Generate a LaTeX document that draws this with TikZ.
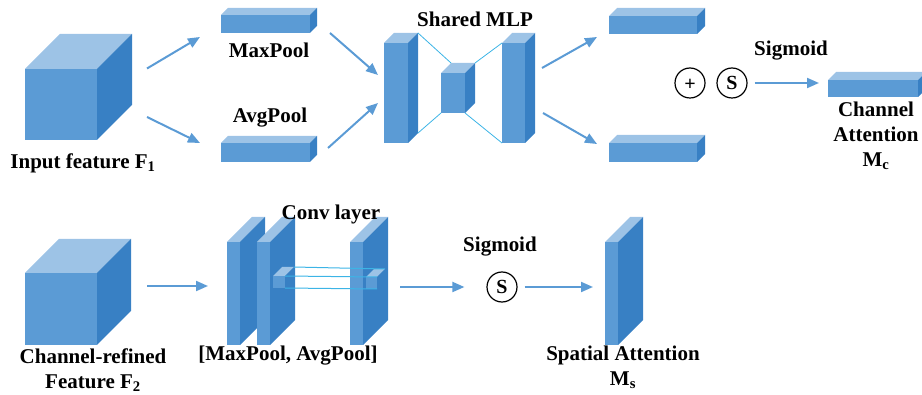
\documentclass[tikz,border=0pt]{standalone}
\usepackage{fontspec}
\setmainfont{Liberation Serif}
\usetikzlibrary{arrows.meta}

\definecolor{bleuface}{RGB}{91,155,213}
\definecolor{bleuhaut}{RGB}{157,195,230}
\definecolor{bleucote}{RGB}{56,128,196}
\definecolor{bleulien}{RGB}{60,180,230}

% bloc 3D : nom, x, y (centre de la face avant), largeur, hauteur, profondeur
\newcommand{\bloc}[6]{%
    \node[face, minimum width=#4pt, minimum height=#5pt] (#1) at (#2,#3) {};
    \fill[bleuhaut] (#1.north west) -- ++(#6,-#6) -- ++(#4,0) -- (#1.north east) -- cycle;
    \fill[bleucote] (#1.north east) -- ++(#6,-#6) -- ++(0,#5) -- (#1.south east) -- cycle;
}

\begin{document}
\begin{tikzpicture}[x=1pt, y=-1pt,
    face/.style={fill=bleuface, inner sep=0pt, outer sep=0pt},
    fleche/.style={draw=bleuface, line width=2pt, -{Triangle[length=12pt,width=10pt]}},
    lien/.style={draw=bleulien, line width=0.8pt},
    texte/.style={font=\bfseries\fontsize{21}{25}\selectfont, align=center, inner sep=0pt},
    rond/.style={circle, draw, line width=1.2pt, minimum size=30pt, inner sep=0pt, font=\bfseries\fontsize{20}{24}\selectfont}]
    \useasboundingbox (0,0) rectangle (922,395);

    % Attention canal
    \bloc{in1}{61}{104.5}{72}{71}{35}
    \node[texte] (lin1) at (83,163) {Input feature F\textsubscript{1}};

    \bloc{maxp}{265.5}{24}{89}{18}{7}
    \node[texte] (lmax) at (269,50) {MaxPool};
    \bloc{avgp}{265.5}{152.5}{89}{19}{7}
    \node[texte] (lavg) at (270,118) {AvgPool};

    \bloc{mlpL}{396}{93}{24}{100}{10}
    \bloc{mlpM}{453}{93}{24}{40}{10}
    \bloc{mlpR}{513.5}{93}{23}{100}{10}
    \node[texte] (lmlp) at (475,19) {Shared MLP};
    \draw[lien] ([shift={(10,-10)}]mlpL.north east) -- ([shift={(10,-10)}]mlpM.north west);
    \draw[lien] ([shift={(10,-10)}]mlpL.south east) -- (mlpM.south west);
    \draw[lien] ([shift={(10,-10)}]mlpM.north east) -- (mlpR.north west);
    \draw[lien] (mlpM.south east) -- (mlpR.south west);

    \bloc{out1}{653}{25}{88}{18}{8}
    \bloc{out2}{653}{152.5}{88}{19}{8}

    \node[rond] (plus) at (690,83) {\vphantom{S}\raisebox{-1.5pt}{+}};
    \node[rond] (sig1) at (732,83) {S};
    \node[texte] (lsig1) at (791,51) {Sigmoid};

    \bloc{ca}{873}{88.5}{90}{17}{8}
    \node[texte] (lca) at (876,136) {Channel\\Attention\\M\textsubscript{c}};

    \draw[fleche] ([shift={(50,-36)}]in1.east) -- ([shift={(-21,4)}]maxp.south west);
    \draw[fleche] ([shift={(50,12.5)}]in1.east) -- ([shift={(-21,0)}]avgp.north west);
    \draw[fleche] ([shift={(20,9)}]maxp.east) -- ([shift={(-6,-18)}]mlpL.west);
    \draw[fleche] ([shift={(18,-4.5)}]avgp.east) -- ([shift={(-6,10)}]mlpL.west);
    \draw[fleche] ([shift={(17,-25)}]mlpR.east) -- ([shift={(-12,12)}]out1.west);
    \draw[fleche] ([shift={(18,20)}]mlpR.east) -- ([shift={(-12,-8.5)}]out2.west);
    \draw[fleche] ([shift={(7,0)}]sig1.east) -- ([shift={(-9,-5.5)}]ca.west);

    % Attention spatiale
    \bloc{in2}{61}{309}{72}{72}{34}
    \node[texte] (lin2) at (93,370) {Channel-refined\\Feature F\textsubscript{2}};

    \bloc{conv1}{233.5}{293.5}{13}{103}{25}
    \bloc{conv2}{263.5}{293.5}{13}{103}{25}
    \bloc{conv3}{356.5}{293.5}{13}{103}{25}
    \bloc{k1}{279}{282}{12}{12}{9}
    \bloc{k2}{371.5}{283}{11}{12}{8}
    \draw[lien, line width=1pt] ([shift={(9,-9)}]k1.north east) -- ([shift={(8,-8)}]k2.north east);
    \draw[lien, line width=1pt] (k1.north east) -- (k2.north east);
    \draw[lien, line width=1pt] (k1.south east) -- (k2.south east);
    \node[texte] (lconv) at (331,214) {Conv layer};
    \node[texte] (lpool) at (288,356) {[MaxPool, AvgPool]};

    \node[rond] (sig2) at (502,287) {S};
    \node[texte] (lsig2) at (500,247) {Sigmoid};

    \bloc{sa}{611.5}{293.5}{13}{103}{25}
    \node[texte] (lsa) at (623,367) {Spatial Attention\\M\textsubscript{s}};

    \draw[fleche] ([shift={(50,-23)}]in2.east) -- ([shift={(-19,-7.5)}]conv1.west);
    \draw[fleche] ([shift={(37,-6.5)}]conv3.east) -- ([shift={(-22,0)}]sig2.west);
    \draw[fleche] ([shift={(7,0)}]sig2.east) -- ([shift={(-12,-6.5)}]sa.west);
\end{tikzpicture}
\end{document}
